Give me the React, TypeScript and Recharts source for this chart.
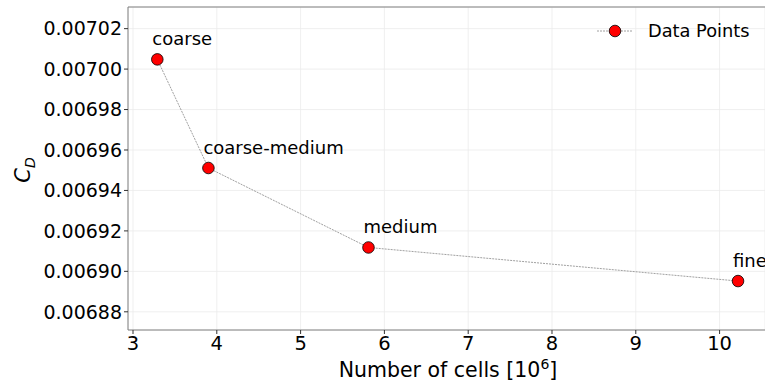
import React, { ReactElement } from 'react';
import {
  LineChart, Line, XAxis, YAxis, CartesianGrid, LabelList, Label, ReferenceLine,
} from 'recharts';

// mesh refinement study: drag coefficient against cell count
const meshNames = ['coarse', 'coarse-medium', 'medium', 'fine'];
const cellCounts = [3.29, 3.9, 5.81, 10.22];
const dragCoeffs = [0.0070048, 0.0069511, 0.0069118, 0.0068952];

const xTicks = [3, 4, 5, 6, 7, 8, 9, 10];
const yTicks = [0.00688, 0.0069, 0.00692, 0.00694, 0.00696, 0.00698, 0.007, 0.00702];

const X_DOMAIN: [number, number] = [2.9403, 10.542];
const Y_DOMAIN: [number, number] = [0.006871, 0.0070307];

const data = meshNames.map((name, i) => ({
  name,
  cells: cellCounts[i],
  cd: dragCoeffs[i],
}));

const FONT = '"DejaVu Sans", sans-serif';
const AXIS_GRAY = '#808080';

// annotation placed just above and slightly left of each marker
// eslint-disable-next-line @typescript-eslint/no-explicit-any
const renderPointLabel = (props: any) => {
  const { x, y, value } = props;
  return (
    <text x={x - 5} y={y - 14} fontSize={18} fontFamily={FONT} fill="#000" textAnchor="start">
      {value}
    </text>
  );
};

// eslint-disable-next-line @typescript-eslint/no-explicit-any
const renderDot = (props: any) => {
  const { cx, cy, index } = props;
  return <circle key={`dot-${index}`} cx={cx} cy={cy} r={5.8} fill="#ff0000" stroke="#000" strokeWidth={0.8} />;
};

// legend box sits over the upper right corner of the plot
function LegendBox(): ReactElement {
  return (
    <div
      style={{
        position: 'absolute',
        left: 595,
        top: 21,
        display: 'flex',
        alignItems: 'center',
        fontFamily: FONT,
        fontSize: 17.8,
        lineHeight: '20px',
      }}
    >
      <svg width={40} height={18}>
        <line x1={2} y1={9} x2={38} y2={9} stroke="#888" strokeWidth={0.8} strokeDasharray="2 1" />
        <circle cx={20} cy={9} r={5.8} fill="#ff0000" stroke="#000" strokeWidth={0.8} />
      </svg>
      <span style={{ marginLeft: 13 }}>Data Points</span>
    </div>
  );
}

function App(): ReactElement {
  return (
    <div style={{ position: 'absolute', left: 0, top: 0, width: 765, height: 383, background: '#fff' }}>
      <LineChart
        width={765}
        height={383}
        data={data}
        margin={{ top: 7, right: 0, bottom: 0, left: 0 }}
      >
        <CartesianGrid stroke="#ebebeb" strokeWidth={0.8} vertical horizontal />
        <XAxis
          dataKey="cells"
          type="number"
          domain={X_DOMAIN}
          ticks={xTicks}
          allowDataOverflow
          height={53}
          stroke={AXIS_GRAY}
          tickSize={4}
          tick={{ fill: '#000', fontSize: 19.5, fontFamily: FONT }}
          tickLine={{ stroke: '#333' }}
        >
          <Label
            content={() => (
              <text x={448} y={377} textAnchor="middle" fontSize={20.5} fontFamily={FONT} fill="#000">
                Number of cells [10
                <tspan dy={-8} fontSize={14}>6</tspan>
                <tspan dy={8}>]</tspan>
              </text>
            )}
          />
        </XAxis>
        <YAxis
          dataKey="cd"
          type="number"
          domain={Y_DOMAIN}
          ticks={yTicks}
          allowDataOverflow
          width={128}
          stroke={AXIS_GRAY}
          tickSize={4}
          tickFormatter={(v: number) => v.toFixed(5)}
          tick={{ fill: '#000', fontSize: 19, fontFamily: FONT }}
          tickLine={{ stroke: '#333' }}
        >
          <Label
            content={() => (
              <text
                x={30}
                y={170}
                transform="rotate(-90 30 170)"
                textAnchor="middle"
                fontSize={21}
                fontFamily={FONT}
                fill="#000"
              >
                <tspan fontStyle="italic">C</tspan>
                <tspan fontStyle="italic" fontSize={14} dy={5}>D</tspan>
              </text>
            )}
          />
        </YAxis>
        <ReferenceLine y={Y_DOMAIN[1]} stroke={AXIS_GRAY} strokeWidth={1} />
        <Line
          dataKey="cd"
          stroke="#888"
          strokeWidth={0.8}
          strokeDasharray="2 1"
          dot={renderDot}
          activeDot={false}
          isAnimationActive={false}
        >
          <LabelList dataKey="name" content={renderPointLabel} />
        </Line>
      </LineChart>
      <LegendBox />
    </div>
  );
}

export default App;
